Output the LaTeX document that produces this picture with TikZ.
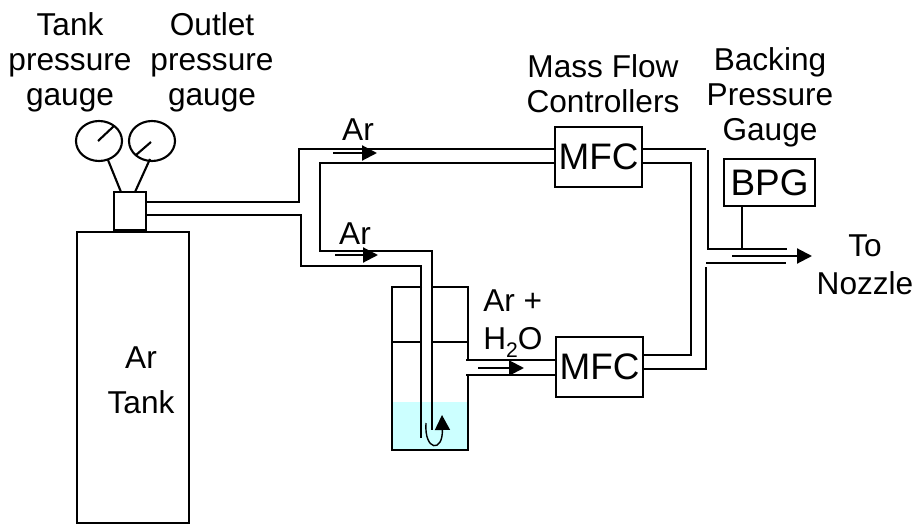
\documentclass[tikz,border=0pt]{standalone}
\usepackage{fontspec}
\setmainfont{Liberation Sans}
\usetikzlibrary{arrows.meta}
\definecolor{waterblue}{HTML}{CCFFFF}
\tikzset{
  pipe/.style={very thick,line join=miter},
  box/.style={draw,very thick,inner sep=0pt,outer sep=0pt},
  label/.style={inner sep=0pt,align=center,font=\fontsize{18}{19.8}\selectfont},
  boxtext/.style={font=\fontsize{21}{25}\selectfont},
  flow/.style={very thick,-{Triangle[length=0.3cm,width=0.3cm]}},
}
\begin{document}
\begin{tikzpicture}[x=0.02cm,y=-0.02cm]
\useasboundingbox (0,0) rectangle (917,527);
% water in the bubbler
\fill[waterblue] (392,402) rectangle (468,450);
% tank, valve and gauges
\node[box,minimum width=2.24cm,minimum height=5.82cm] (tank) at (133,377.5) {};
\node[label,font=\fontsize{18}{25.5}\selectfont] (tanktext) at (141,380) {Ar\\Tank};
\node[box,minimum width=0.64cm,minimum height=0.76cm] (valve) at (130,211) {};
\draw[very thick] (99,141) ellipse (23 and 20);
\draw[very thick] (152,141) ellipse (23 and 20);
\draw[very thick] (98,141)--(114,126);
\draw[very thick] (136,155)--(151,142);
\coordinate (stemleft) at (108,160);
\coordinate (stemright) at (150,159);
\draw[very thick] (stemleft)--(valve.north -| 121,0);
\draw[very thick] (stemright)--(valve.north -| 135,0);
% controllers and backing gauge
\node[box,boxtext,minimum width=1.74cm,minimum height=1.2cm] (mfctop) at (598.5,157) {MFC};
\node[box,boxtext,minimum width=1.74cm,minimum height=1.2cm] (mfcbot) at (599.5,367) {MFC};
\node[box,boxtext,minimum width=1.82cm,minimum height=0.94cm] (bpg) at (769.5,182.5) {BPG};
% lines from the valve
\coordinate (upper) at (299,202);
\coordinate (lower) at (301,215);
\draw[pipe] (valve.east |- upper)--(upper)|-(mfctop.west |- 0,149);
\draw[pipe] (valve.east |- lower)--(lower)|-(421,266)--(421,438);
\coordinate (inner) at (320,163);
\draw[pipe] (mfctop.west |- inner)--(inner)|-(432,251)--(432,430);
% bubbler
\draw[pipe] (422,287)--(392,287)--(392,450)--(468,450)--(468,375);
\draw[pipe] (432,287)--(468,287)--(468,360);
\draw[pipe] (392,342)--(420,342);
\draw[pipe] (433,342)--(468,342);
\draw[pipe] (466,360)--(mfcbot.west |- 0,360);
\draw[pipe] (466,375)--(mfcbot.west |- 0,375);
\draw[thick,-{Triangle[length=0.3cm,width=0.3cm]}] (426,423) .. controls (424,451) and (443,453) .. (442,415);
% lines to the nozzle
\draw[pipe] (mfctop.east |- 0,149)--(706,149);
\draw[pipe] (708,150)--(708,249)--(787,249);
\draw[pipe] (mfctop.east |- 0,163)-|(691,355)--(mfcbot.east |- 0,355);
\draw[pipe] (mfcbot.east |- 0,369)-|(706,267);
\draw[pipe] (706,263)--(786,263);
\draw[very thick] (bpg.south -| 742,0)--(742,249);
% flow arrows
\draw[flow] (333,153)--(377,153);
\draw[flow] (335,255)--(378,255);
\draw[flow] (478,368)--(524,368);
\draw[flow] (732,256)--(812,256);
% labels
\node[label] (tankgauge) at (70,62.5) {Tank\\pressure\\gauge};
\node[label] (outletgauge) at (212,62.5) {Outlet\\pressure\\gauge};
\node[label] (mfcname) at (603,84) {Mass Flow\\Controllers};
\node[label] (bpgname) at (770,97.5) {Backing\\Pressure\\Gauge};
\node[label] (artop) at (358,130) {Ar};
\node[label] (arlow) at (355,234) {Ar};
\node[label,anchor=west] (arwet) at (483,301) {Ar +};
\node[label,anchor=base west] (water) at (483,349) {H\raisebox{-5pt}{\fontsize{12}{12}\selectfont 2}O};
\node[label,font=\fontsize{18}{21.5}\selectfont] (nozzle) at (865,265) {To\\Nozzle};
\end{tikzpicture}
\end{document}
